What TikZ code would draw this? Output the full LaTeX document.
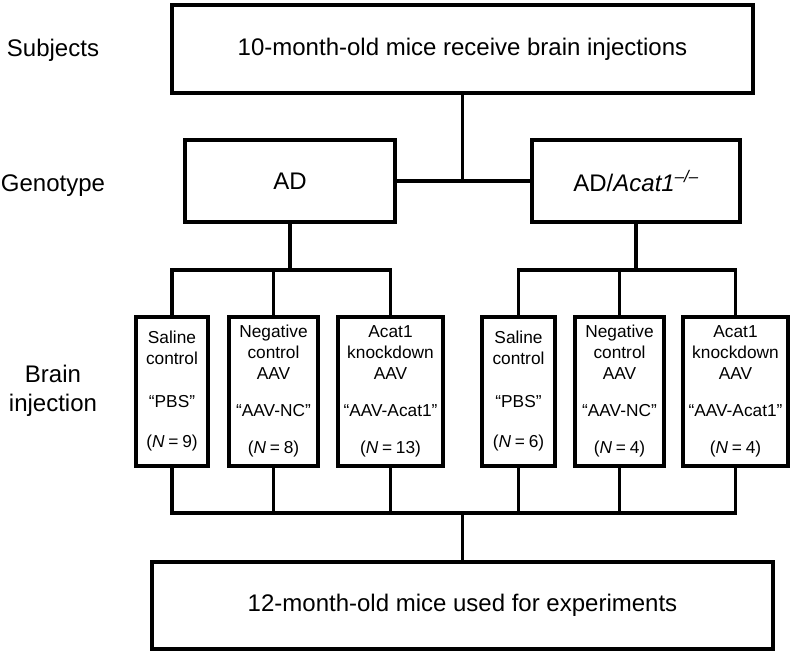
\documentclass[tikz,border=0pt]{standalone}
\usepackage{fontspec}
\setmainfont{Liberation Sans}
\newcommand{\eqsp}{\hspace{0.22em}=\hspace{0.22em}}
\begin{document}
\begin{tikzpicture}[x=1pt,y=-1pt,
  box/.style={draw, line width=3.4pt, inner sep=0pt, align=center},
  conn/.style={line width=3.4pt},
  big/.style={font=\fontsize{24}{29}\selectfont},
  small/.style={font=\fontsize{17.3}{21}\selectfont},
  smallbox/.style={box, small, minimum height=149pt}]
\useasboundingbox (0,0) rectangle (791,651);

% row labels
\node[big, align=center] (lsub) at (53,50) {Subjects};
\node[big, align=center] (lgen) at (53,186) {Genotype};
\node[big, align=center] (linj) at (53,391) {Brain\\injection};

% top and genotype boxes
\node[box, big, minimum width=581pt, minimum height=88pt] (top) at (462.5,49) {10-month-old mice receive brain injections};
\node[box, big, minimum width=210pt, minimum height=82pt] (ad) at (290,181) {AD};
\node[box, big, minimum width=208pt, minimum height=82pt] (adk) at (636,181) {AD/\textit{Acat1}\textsuperscript{\itshape –/–}};

% injection boxes
\node[smallbox, minimum width=72pt] (s1) at (172,391.5) {Saline\\control\\[22pt]“PBS”\\[19pt](\textit{N}\eqsp9)};
\node[smallbox, minimum width=89pt] (n1) at (273.5,391.5) {Negative\\control\\AAV\\[16pt]“AAV-NC”\\[16pt](\textit{N}\eqsp8)};
\node[smallbox, minimum width=105pt] (k1) at (390.5,391.5) {Acat1\\knockdown\\AAV\\[16pt]“AAV-Acat1”\\[16pt](\textit{N}\eqsp13)};
\node[smallbox, minimum width=73pt] (s2) at (518.5,391.5) {Saline\\control\\[22pt]“PBS”\\[19pt](\textit{N}\eqsp6)};
\node[smallbox, minimum width=89pt] (n2) at (619.5,391.5) {Negative\\control\\AAV\\[16pt]“AAV-NC”\\[16pt](\textit{N}\eqsp4)};
\node[smallbox, minimum width=105pt] (k2) at (735.5,391.5) {Acat1\\knockdown\\AAV\\[16pt]“AAV-Acat1”\\[16pt](\textit{N}\eqsp4)};

% bottom box
\node[box, big, minimum width=621pt, minimum height=87pt] (bot) at (462.5,605.5) {12-month-old mice used for experiments};

% connectors: subjects to genotypes
\coordinate (j1) at (top.south |- ad.east);
\draw[conn] (top.south) -- (j1);
\draw[conn] (ad.east) -- (adk.west);

% genotype to injections
\coordinate (b1) at (290,270);
\coordinate (b2) at (636,270);
\draw[conn] (ad.south) -- (b1);
\draw[conn] (s1.north) |- (b1) -| (k1.north);
\draw[conn] (n1.north) -- (n1.north |- b1);
\draw[conn] (adk.south) -- (b2);
\draw[conn] (s2.north) |- (b2) -| (k2.north);
\draw[conn] (n2.north) -- (n2.north |- b2);

% injections to final
\coordinate (j3) at (462.5,513);
\draw[conn] (s1.south) |- (j3) -| (k2.south);
\draw[conn] (n1.south) -- (n1.south |- j3);
\draw[conn] (k1.south) -- (k1.south |- j3);
\draw[conn] (s2.south) -- (s2.south |- j3);
\draw[conn] (n2.south) -- (n2.south |- j3);
\draw[conn] (j3) -- (bot.north);
\end{tikzpicture}
\end{document}
